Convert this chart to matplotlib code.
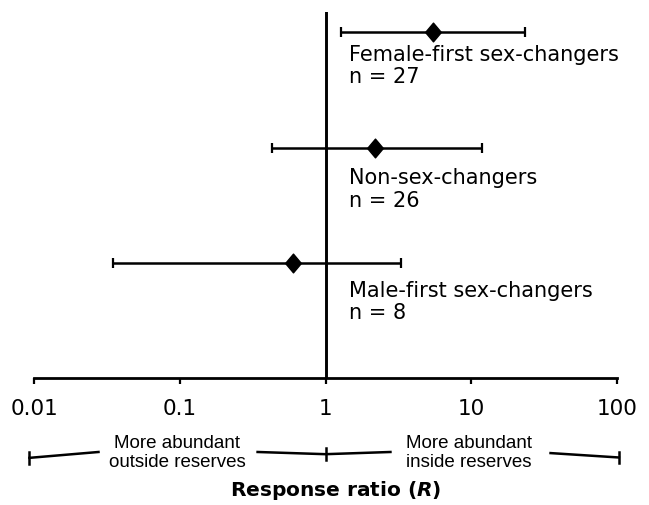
import numpy as np
import matplotlib.pyplot as plt

plt.rcParams["mathtext.fontset"] = "dejavusans"

# Valores (razão de resposta e intervalo de confiança)
grupos = ["Female-first sex-changers", "Non-sex-changers", "Male-first sex-changers"]
n_amostras = [27, 26, 8]
razao = np.array([5.5, 2.2, 0.60])
ic_inferior = np.array([1.27, 0.43, 0.0346])
ic_superior = np.array([23.2, 11.8, 3.32])
linhas = [3, 2, 1]

ticks_x = [0.01, 0.1, 1, 10, 100]
rotulos_x = ["0.01", "0.1", "1", "10", "100"]

fig = plt.figure(figsize=(6.49, 5.05), dpi=100)
ax = fig.add_axes([34 / 649, 126.7 / 505, 583 / 649, 366.6 / 505])

ax.set_xscale("log")
ax.set_xlim(0.01, 100)
ax.set_ylim(0, 3.177)

# Linha vertical em R = 1
ax.axvline(1, color="black", lw=2.1, zorder=1)

# losango um pouco mais alto que largo
losango = [(-0.42, 0), (0, 0.5), (0.42, 0), (0, -0.5), (-0.42, 0)]
erro = [razao - ic_inferior, ic_superior - razao]
ax.errorbar(razao, linhas, xerr=erro, fmt="none", ecolor="black",
            elinewidth=1.8, capsize=3.6, capthick=1.6, zorder=2)
ax.plot(razao, linhas, ls="none", marker=losango, ms=13.5, color="black", zorder=3)

# deslocamento vertical de cada rótulo (em unidades do eixo y)
desloc = [0.11, 0.18, 0.155]
for g, n, y, d in zip(grupos, n_amostras, linhas, desloc):
    ax.text(1.45, y - d, f"{g}\nn = {n}", ha="left", va="top",
            fontsize=15, linespacing=1.15)

# Eixos
for lado in ["left", "right", "top"]:
    ax.spines[lado].set_visible(False)
ax.spines["bottom"].set_linewidth(2.0)
ax.set_yticks([])
ax.set_xticks(ticks_x)
ax.set_xticklabels(rotulos_x, fontsize=15.5)
ax.minorticks_off()
ax.tick_params(axis="x", direction="out", length=4, width=1.6, pad=11)

# Colchete com as legendas abaixo do eixo
tr = ax.get_xaxis_transform()
segmentos = [([0.0093, 0.0277], [-0.217, -0.201]),
             ([0.342, 1, 2.79], [-0.201, -0.207, -0.201]),
             ([35, 103], [-0.204, -0.216])]
for xs, ys in segmentos:
    ax.plot(xs, ys, color="black", lw=1.8, transform=tr, clip_on=False)
for xc, yc in [(0.0093, -0.217), (1, -0.207), (103, -0.216)]:
    ax.plot([xc, xc], [yc - 0.016, yc + 0.016], color="black", lw=1.8,
            transform=tr, clip_on=False)

fonte = ["Liberation Sans", "DejaVu Sans"]
ax.text(0.0957, -0.204, "More abundant\noutside reserves", transform=tr,
        ha="center", va="center", fontsize=13.5, family=fonte,
        linespacing=1.15)
ax.text(9.66, -0.204, "More abundant\ninside reserves", transform=tr,
        ha="center", va="center", fontsize=13.5, family=fonte,
        linespacing=1.15)

ax.text(1.17, -0.305, r"Response ratio ($\mathbfit{R}$)", transform=tr,
        ha="center", va="center", fontsize=14.5, fontweight="bold")

fig.savefig("out.png", dpi=100)
